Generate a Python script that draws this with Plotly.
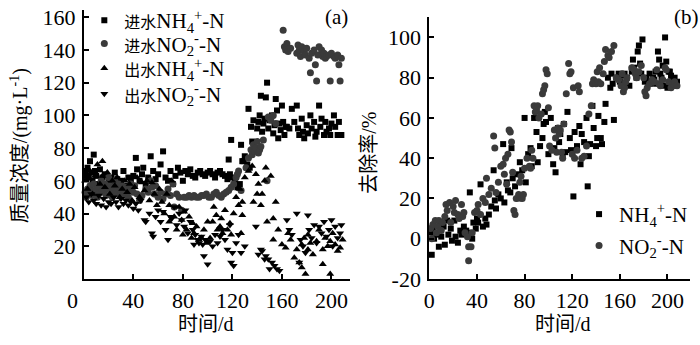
import plotly.graph_objects as go

# ---------------- data: panel (a) ----------------
in_nh4_day = [1,2,3,4,5,6,7,8,9,10,
              12,13,15,17,18,20,22,24,25,27,
              29,30,32,34,36,38,40,42,43,45,
              47,48,50,52,54,56,58,60,62,64,
              66,68,70,72,74,76,78,80,82,84,
              86,88,90,92,94,96,98,100,102,104,
              106,108,110,112,114,116,118,120,122,124,
              126,128,130,132,134,136,138,140,141,142,
              143,144,145,146,147,148,149,150,152,153,
              154,155,156,157,158,159,160,161,162,163,
              164,166,168,170,172,173,174,176,177,178,
              180,181,183,184,186,187,188,190,191,192,
              194,195,196,198,199,200,202,203,205,206,
              208,117,119,127,129,133,135,137]
in_nh4_val = [66,63,68,62,72,65,60,76,66,63,
              58,67,62,64,55,60,62,58,65,61,
              56,60,66,57,62,60,63,74,67,60,
              64,68,58,62,75,66,61,64,70,78,
              62,60,66,58,63,68,65,60,66,64,
              67,63,62,65,66,64,63,65,66,64,
              62,65,66,64,63,61,64,62,60,56,
              58,72,75,70,68,84,80,92,96,100,
              112,90,95,98,111,120,92,97,100,89,
              94,110,103,86,95,91,106,96,88,93,
              93,92,104,96,106,92,88,98,90,86,
              94,89,100,92,96,87,90,106,93,98,
              88,96,90,92,88,95,100,93,88,96,
              88,73,85,82,72,104,93,97]

in_no2_day = [1,2,3,4,5,6,7,8,9,10,
              11,12,13,14,15,16,17,18,19,20,
              21,22,23,24,25,26,27,28,29,30,
              31,32,33,34,35,36,37,38,40,41,
              43,45,47,50,52,54,55,57,58,60,
              62,64,66,68,70,72,73,75,77,79,
              81,83,85,87,89,91,93,95,97,99,
              101,103,105,107,109,111,113,115,117,119,
              121,123,124,125,127,131,133,135,136,137,
              138,139,140,141,142,143,145,148,149,151,
              153,155,161,162,163,164,165,167,172,173,
              174,175,176,178,179,180,182,183,184,186,
              187,188,189,190,192,193,194,195,196,198,
              199,200,202,203,205,206,207,208]
in_no2_val = [53,50,55,52,57,54,51,58,53,55,
              50,52,56,60,54,53,58,51,55,62,
              57,53,50,56,60,54,52,58,55,53,
              57,51,54,56,52,50,55,58,53,57,
              52,48,51,55,53,60,56,52,57,50,
              53,49,52,55,51,58,44,52,50,42,
              50,50,51,50,51,50,50,51,51,52,
              50,50,52,53,51,50,52,53,54,56,
              58,62,64,66,54,68,74,79,76,82,
              78,80,84,77,79,81,85,60,99,97,
              100,95,152,142,140,144,139,141,138,143,
              140,136,142,139,137,141,135,126,138,140,
              131,121,137,142,140,136,138,135,136,137,
              121,138,136,135,137,131,121,135]

out_nh4_day = [1,3,5,7,9,11,13,15,15,17,
               19,21,23,25,27,29,31,33,35,37,
               39,41,43,45,47,49,51,53,55,57,
               59,61,63,65,67,69,69,71,73,75,
               77,79,80,81,83,85,87,88,89,91,
               93,95,97,99,100,102,104,105,107,108,
               110,111,112,114,116,118,119,121,123,125,
               126,127,128,128,130,133,136,137,139,140,
               141,143,144,146,147,148,151,153,153,155,
               157,160,163,165,167,170,172,174,176,176,
               178,179,181,181,183,185,188,190,193,193,
               195,197,199,199,201,203,205,207,209]
out_nh4_val = [60,55,66,52,63,70,58,72,63,56,
               65,52,60,57,62,50,55,60,53,58,
               48,56,62,50,59,54,60,48,59,52,
               45,55,47,40,52,45,35,60,38,30,
               44,36,27,41,30,38,25,34,28,32,
               24,25,30,22,35,25,35,44,39,30,
               32,37,28,42,30,34,27,40,50,45,
               55,28,47,39,62,66,69,47,64,52,
               58,45,52,60,68,35,63,37,24,47,
               30,21,19,28,24,13,18,10,21,7,
               25,3,27,18,22,15,23,30,18,9,
               25,20,23,3,28,21,17,19,24]

out_no2_day = [2,4,6,8,10,12,14,16,18,20,
               22,24,26,28,30,32,34,36,38,40,
               42,44,46,49,50,53,55,56,58,60,
               62,64,66,68,70,71,73,75,77,79,
               81,82,84,86,88,89,90,92,93,95,
               96,97,98,100,101,102,104,106,108,110,
               112,114,116,118,119,120,121,123,125,127,
               130,139,141,143,144,146,147,149,150,152,
               154,156,158,164,166,168,172,174,175,177,
               179,181,182,184,186,188,190,192,194,196,
               198,200,201,203,205,207,208]
out_no2_val = [50,47,52,48,46,51,45,49,44,47,
               46,50,47,44,49,46,48,45,47,43,
               46,42,48,36,35,40,28,26,38,42,
               35,41,30,24,38,37,44,33,40,36,
               32,42,28,35,30,21,27,24,22,26,
               21,14,24,9,23,23,20,27,22,26,
               30,24,18,33,10,16,8,22,27,16,
               20,32,15,18,17,12,14,12,6,10,
               8,6,5,36,30,27,40,10,24,20,
               16,39,30,25,33,22,32,28,35,26,
               30,36,20,32,25,28,33]

# ---------------- data: panel (b) ----------------
rm_nh4_day = [1,2,3,4,6,8,9,10,12,13,
              15,16,18,19,21,22,24,26,27,29,
              31,33,34,36,37,39,40,41,43,45,
              47,48,50,52,54,55,56,58,60,62,
              63,65,66,68,69,70,72,74,75,76,
              78,80,81,83,85,86,88,90,91,93,
              95,96,97,98,100,102,104,105,106,108,
              109,110,112,113,114,116,118,119,121,122,
              124,126,127,128,130,132,133,134,135,137,
              138,140,141,142,144,145,147,148,150,152,
              153,154,155,157,159,160,162,164,166,168,
              170,171,172,174,175,176,177,178,179,181,
              182,184,185,186,188,189,190,191,192,193,
              194,195,196,197,198,199,200,201,202,203,
              204,205,206,207,208]
rm_nh4_val = [3,-8,5,0,2,-4,8,1,6,-3,
              9,2,5,-1,9,1,-2,4,2,6,
              4,3,23,0,8,5,10,8,27,6,
              10,7,12,16,34,19,15,22,20,47,
              18,28,24,23,45,30,26,32,20,38,
              34,60,28,42,45,36,60,53,38,46,
              50,57,63,58,42,60,37,45,33,55,
              48,52,41,57,43,63,50,44,21,53,
              46,56,37,52,48,60,26,41,47,66,
              55,46,50,61,50,47,58,67,80,75,
              82,77,59,80,82,78,81,82,80,76,
              83,89,85,80,93,96,87,82,99,78,
              80,78,82,77,80,79,83,77,93,89,
              82,80,86,76,100,88,75,83,83,81,
              79,77,80,76,78]

rm_no2_day = [1,2,3,5,6,7,8,10,11,13,
              14,15,17,18,20,21,22,24,25,27,
              28,29,30,32,33,33,35,36,38,40,
              41,43,45,47,48,50,52,54,55,56,
              58,60,62,63,64,65,66,67,68,69,
              70,71,72,73,75,76,77,78,79,80,
              82,84,85,86,87,88,89,90,91,92,
              94,95,96,97,98,99,100,101,103,105,
              106,107,108,109,110,111,112,113,115,117,
              118,119,120,121,122,124,125,126,128,130,
              132,134,136,137,138,140,141,142,143,144,
              146,147,148,150,151,153,155,157,159,161,
              162,163,164,165,166,170,172,173,174,176,
              178,180,181,182,183,185,187,189,191,193,
              194,196,198,199,201,203,205,206,208]
rm_no2_val = [5,0,7,9,3,6,9,4,8,11,
              17,14,18,8,16,13,19,12,10,17,
              11,13,3,1,-4,-11,-4,3,13,14,
              17,12,20,18,30,22,25,51,45,23,
              28,36,37,32,40,27,42,54,53,48,
              33,14,12,20,22,28,31,20,22,35,
              40,36,35,44,40,66,63,64,66,60,
              62,72,74,76,84,82,65,46,44,54,
              50,43,55,52,54,43,40,57,72,87,
              82,83,42,75,40,44,76,73,40,41,
              46,62,66,77,79,77,83,78,85,77,
              82,88,94,91,90,93,96,80,79,76,
              82,73,75,78,80,85,84,82,80,83,
              86,80,73,71,75,77,79,78,84,77,
              76,79,85,84,78,75,77,78,76]

x_ticks = [0, 40, 80, 120, 160, 200]
ya_ticks = [20, 40, 60, 80, 100, 120, 140, 160]
yb_ticks = [-20, 0, 20, 40, 60, 80, 100]

# ---------------- figure ----------------
W, H = 700, 345
def fx(p): return p / W
def fy(p): return 1 - p / H

SERIF = "Liberation Serif, Times New Roman, Noto Sans CJK SC, serif"
BLACK = "#000000"
GREY = "#3a3a3a"

def cjk(s):
    return "<span style='font-size:16px'>" + s + "</span>"

fig = go.Figure()

def add(x, y, sym, size, color, name, xa, ya, leg):
    fig.add_trace(go.Scatter(
        x=x, y=y, mode="markers", name=name, cliponaxis=False,
        marker=dict(symbol=sym, size=size, color=color, line=dict(width=0)),
        xaxis=xa, yaxis=ya, legend=leg))

add(in_nh4_day, in_nh4_val, "square", 6, BLACK, cjk("进水") + "NH<sub>4</sub><sup>+</sup>-N", "x", "y", "legend")
add(in_no2_day, in_no2_val, "circle", 7, GREY, cjk("进水") + "NO<sub>2</sub><sup>-</sup>-N", "x", "y", "legend2")
add(out_nh4_day, out_nh4_val, "triangle-up", 7, BLACK, cjk("出水") + "NH<sub>4</sub><sup>+</sup>-N", "x", "y", "legend3")
add(out_no2_day, out_no2_val, "triangle-down", 7, BLACK, cjk("出水") + "NO<sub>2</sub><sup>-</sup>-N", "x", "y", "legend4")

add(rm_nh4_day, rm_nh4_val, "square", 6, BLACK, "NH<sub>4</sub><sup>+</sup>-N", "x2", "y2", "legend5")
add(rm_no2_day, rm_no2_val, "circle", 7, GREY, "NO<sub>2</sub><sup>-</sup>-N", "x2", "y2", "legend6")

axis_common = dict(showline=True, linecolor=BLACK, linewidth=2, ticks="inside",
                   ticklen=5, tickwidth=2, tickcolor=BLACK, showgrid=False,
                   zeroline=False, tickfont=dict(family=SERIF, size=22, color=BLACK))

def leg(xp, yp):
    return dict(x=fx(xp), y=fy(yp), xanchor="left", yanchor="middle",
                bgcolor="rgba(0,0,0,0)", borderwidth=0,
                font=dict(family=SERIF, size=21, color=BLACK))

fig.update_layout(
    width=W, height=H, autosize=False,
    margin=dict(l=0, r=0, t=0, b=0),
    paper_bgcolor="white", plot_bgcolor="white",
    font=dict(family=SERIF, size=20, color=BLACK),
    xaxis=dict(domain=[fx(78.5), fx(347)], range=[0, 215], anchor="y",
               tickvals=x_ticks[1:], ticktext=[str(v) for v in x_ticks[1:]],
               ticklabelstandoff=1, **axis_common),
    yaxis=dict(domain=[fy(289), fy(5)], range=[0, 164.6], anchor="x",
               tickvals=ya_ticks, ticktext=[str(v) for v in ya_ticks],
               ticklabelstandoff=2, **axis_common),
    xaxis2=dict(domain=[fx(427), fx(690)], range=[0, 219], anchor="y2",
                tickvals=x_ticks, ticktext=[str(v) for v in x_ticks],
                ticklabelstandoff=1, **axis_common),
    yaxis2=dict(domain=[fy(289), fy(13)], range=[-20, 110], anchor="x2",
                tickvals=yb_ticks, ticktext=[str(v) for v in yb_ticks],
                ticklabelstandoff=2, **axis_common),
    legend=leg(79, 16),
    legend2=leg(79, 41),
    legend3=leg(79, 67),
    legend4=leg(79, 94),
    legend5=leg(578, 221),
    legend6=leg(578, 254),
    showlegend=True,
)

ann = [
    dict(text="0", x=fx(67), y=fy(303), size=22, yshift=-8),
    dict(text="时间/d", x=fx(202), y=0, size=20, yanchor="bottom", yshift=-5),
    dict(text="时间/d", x=fx(562), y=0, size=20, yanchor="bottom", yshift=-5),
    dict(text="质量浓度/(mg·L<sup>-1</sup>)", x=fx(13), y=fy(148), textangle=-90, size=20),
    dict(text="去除率/%", x=fx(366), y=fy(156), textangle=-90, size=20),
    dict(text="(a)", x=fx(333), y=fy(13), size=21),
    dict(text="(b)", x=fx(686), y=fy(13), size=21),
]
for a in ann:
    sz = a.pop("size")
    ya = a.pop("yanchor", "middle")
    fig.add_annotation(xref="paper", yref="paper", showarrow=False,
                       xanchor="center", yanchor=ya,
                       font=dict(family=SERIF, size=sz, color=BLACK), **a)

fig.write_html("out.html")
